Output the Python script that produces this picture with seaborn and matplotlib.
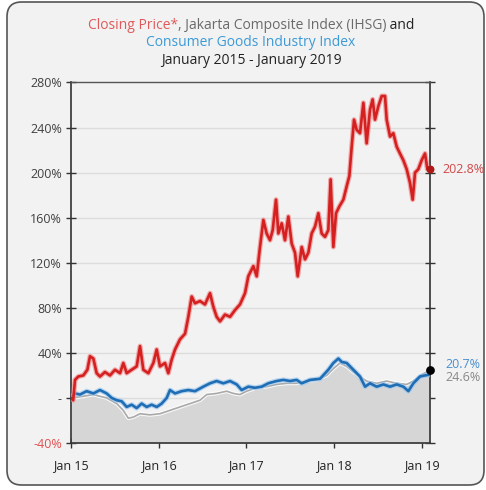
import matplotlib
matplotlib.use("Agg")
import matplotlib.pyplot as plt
import matplotlib.patheffects as pe
from matplotlib.patches import FancyBboxPatch
from matplotlib.offsetbox import TextArea, HPacker, VPacker, AnnotationBbox
import pandas as pd
import seaborn as sns

# Months elapsed since January 2015, and cumulative returns in percent
price_months = [0, 0.3, 0.55, 1.0, 1.69, 2.24, 2.6, 3.06, 3.51, 3.97, 4.65, 5.34, 6.02,
                6.71, 7.16, 7.62, 8.30, 8.99, 9.45, 9.90, 10.59, 11.27, 11.73, 12.18,
                12.87, 13.32, 13.78, 14.24, 14.92, 15.61, 16.06, 16.52, 16.97, 17.66,
                18.34, 19.03, 19.48, 19.94, 20.40, 21.08, 21.77, 22.45, 23.13, 23.82,
                24.27, 24.96, 25.42, 25.87, 26.33, 26.78, 27.24, 27.61, 28.06, 28.38,
                28.84, 29.29, 29.75, 30.21, 30.66, 31.03, 31.58, 32.03, 32.49, 32.94,
                33.40, 33.86, 34.31, 34.77, 35.22, 35.54, 35.91, 36.28, 36.73, 37.28,
                37.74, 38.10, 38.42, 38.74, 39.10, 39.56, 40.02, 40.47, 40.93, 41.29,
                41.61, 42.07, 42.53, 42.98, 43.21, 43.67, 44.12, 44.58, 45.03, 45.49,
                45.95, 46.40, 46.77, 47.09, 47.54, 48.00, 48.46, 48.78, 49.14]
price_values = [0, -2, 16, 19, 20, 25, 37, 35, 22, 19, 23, 20, 25,
                22, 31, 22, 25, 28, 46, 25, 22, 31, 43, 28,
                31, 22, 34, 43, 52, 57, 72, 90, 84, 86,
                83, 93, 81, 72, 68, 74, 72, 78, 83, 93,
                108, 117, 108, 134, 158, 146, 140, 149, 176, 146,
                155, 140, 161, 137, 129, 108, 134, 123, 129, 146,
                152, 164, 146, 143, 149, 194, 134, 164, 170, 176,
                188, 197, 223, 247, 238, 235, 262, 226, 256, 265,
                247, 259, 268, 268, 247, 232, 235, 223, 217, 211,
                203, 191, 176, 200, 203, 211, 217, 203, 202.8]

consumer_months = [0, 0.55, 1.23, 2.14, 3.06, 3.97, 4.88, 5.57, 6.25, 6.94, 7.62, 8.30,
                   8.99, 9.67, 10.36, 11.04, 11.73, 12.41, 13.10, 13.55, 14.24, 15.15,
                   16.06, 16.97, 18.11, 19.03, 19.94, 20.85, 21.77, 22.68, 23.36, 24.27,
                   25.19, 26.10, 27.01, 28.15, 29.07, 29.98, 30.89, 31.58, 32.72, 34.09,
                   35.22, 35.91, 36.60, 37.05, 37.74, 38.65, 39.56, 40.25, 40.93, 41.84,
                   42.75, 43.67, 44.58, 45.49, 46.18, 46.86, 47.77, 48.46, 49.14]
consumer_values = [0, 4, 3, 6, 4, 7, 4, 0, -2, -3, -8, -6,
                   -9, -5, -8, -6, -8, -5, 0, 7, 4, 6,
                   7, 6, 10, 13, 15, 13, 15, 12, 7, 10,
                   9, 10, 13, 15, 16, 15, 16, 13, 16, 17,
                   25, 31, 35, 32, 31, 25, 19, 10, 13, 10,
                   12, 10, 12, 10, 6, 13, 19, 20, 20.7]

ihsg_months = [0, 1.23, 3.06, 4.88, 6.25, 7.16, 7.85, 8.53, 9.45, 10.81, 12.18, 13.55,
               14.92, 16.29, 17.66, 18.57, 19.94, 21.31, 22.22, 23.13, 24.05, 25.42,
               26.78, 28.15, 29.52, 30.89, 32.26, 33.63, 35.00, 35.91, 36.82, 37.74,
               38.65, 39.56, 40.47, 41.84, 43.21, 44.58, 45.95, 46.86, 47.77, 49.14]
ihsg_values = [0, 1, 3, 0, -5, -11, -18, -17, -14, -15, -14, -11,
               -8, -5, -2, 3, 4, 6, 4, 3, 6, 9,
               10, 12, 13, 13, 15, 16, 20, 26, 31, 28,
               23, 19, 15, 13, 15, 13, 12, 15, 20, 24.6]

y_ticks = [-40, 0, 40, 80, 120, 160, 200, 240, 280]
y_tick_labels = ["-40%", "-", "40%", "80%", "120%", "160%", "200%", "240%", "280%"]
x_ticks = [0, 12, 24, 36, 48]
x_tick_labels = ["Jan 15", "Jan 16", "Jan 17", "Jan 18", "Jan 19"]

RED = "#d42020"
BLUE = "#1f6db5"
GREY_LINE = "#a9a9a9"
BG = "#f2f2f2"
TXT = "#404040"

sns.set_theme(style="white")
plt.rcParams["font.family"] = ["Open Sans", "DejaVu Sans"]

fig = plt.figure(figsize=(4.86, 4.90), dpi=100)
fig.patch.set_facecolor("white")
frame = FancyBboxPatch((7 / 486, 5 / 490), 477 / 486, 483 / 490,
                       boxstyle="round,pad=0,rounding_size=0.03",
                       transform=fig.transFigure, facecolor=BG,
                       edgecolor="#555555", linewidth=1.2, zorder=-10)
fig.patches.append(frame)

ax = fig.add_axes([71 / 486, 47 / 490, 359 / 486, 360.5 / 490])
ax.set_facecolor(BG)

price = pd.DataFrame({"month": price_months, "value": price_values})
consumer = pd.DataFrame({"month": consumer_months, "value": consumer_values})
ihsg = pd.DataFrame({"month": ihsg_months, "value": ihsg_values})

for y in y_ticks[1:-1]:
    ax.axhline(y, color="#dddddd", lw=1.0, zorder=0)

ax.fill_between(ihsg["month"], ihsg["value"], -40, color="#d6d6d6", lw=0, zorder=1)
sns.lineplot(data=ihsg, x="month", y="value", ax=ax, color=GREY_LINE, lw=1.2, zorder=2,
             path_effects=[pe.Stroke(linewidth=2.8, foreground="white", alpha=0.85), pe.Normal()])
sns.lineplot(data=consumer, x="month", y="value", ax=ax, color=BLUE, lw=1.9, zorder=3,
             path_effects=[pe.Stroke(linewidth=3.6, foreground="#9cc6ec", alpha=0.7), pe.Normal()])
sns.lineplot(data=price, x="month", y="value", ax=ax, color=RED, lw=1.9, zorder=4,
             path_effects=[pe.Stroke(linewidth=3.6, foreground="#f08a8a", alpha=0.7), pe.Normal()])

ax.scatter([ihsg_months[-1]], [ihsg_values[-1]], s=28, color="black", zorder=6, clip_on=False)
ax.scatter([price_months[-1]], [price_values[-1]], s=22, color="#b01818", zorder=6, clip_on=False)

ax.set_xlim(0, 49.14)
ax.set_ylim(-40, 280)
ax.set_xlabel("")
ax.set_ylabel("")
ax.set_yticks(y_ticks)
ax.set_yticklabels(y_tick_labels)
ax.set_xticks(x_ticks)
ax.set_xticklabels(x_tick_labels)
ax.tick_params(axis="y", direction="inout", length=7, width=1, color="#333333",
               labelsize=9, labelcolor=TXT, pad=3, right=True, left=True)
ax.tick_params(axis="x", direction="inout", length=7, width=1, color="#333333",
               labelsize=9, labelcolor="#222222", pad=8, bottom=True)
ax.get_yticklabels()[0].set_color("#e05050")

for side, sp in ax.spines.items():
    sp.set_visible(True)
    sp.set_color("#333333")
    sp.set_linewidth(1.2)
ax.spines["top"].set_color("#555555")
ax.spines["top"].set_linewidth(1.0)

# end-of-series value labels
ax.annotate("202.8%", xy=(1.0, price_values[-1]), xycoords=("axes fraction", "data"),
            xytext=(9, 0), textcoords="offset points", va="center", ha="left",
            fontsize=9, color="#d04848")
ax.annotate("20.7%", xy=(1.0, 29.5), xycoords=("axes fraction", "data"),
            xytext=(11, 0), textcoords="offset points", va="center", ha="left",
            fontsize=9, color="#4a8fd0")
ax.annotate("24.6%", xy=(1.0, 18.5), xycoords=("axes fraction", "data"),
            xytext=(11, 0), textcoords="offset points", va="center", ha="left",
            fontsize=9, color="#888888")

# three-line title with coloured segments
fs = 10
line1 = HPacker(children=[
    TextArea("Closing Price*", textprops=dict(color="#e05a5a", fontsize=fs)),
    TextArea(", Jakarta Composite Index (IHSG)", textprops=dict(color="#6a6a6a", fontsize=fs)),
    TextArea(" and", textprops=dict(color="#222222", fontsize=fs)),
], align="baseline", pad=0, sep=0)
line2 = TextArea("Consumer Goods Industry Index", textprops=dict(color="#3c9ad6", fontsize=fs))
line3 = TextArea("January 2015 - January 2019", textprops=dict(color="#222222", fontsize=fs))
title = VPacker(children=[line1, line2, line3], align="center", pad=0, sep=2)
ab = AnnotationBbox(title, (251 / 486, 1 - 43 / 490), xycoords="figure fraction",
                    box_alignment=(0.5, 0.5), frameon=False)
fig.add_artist(ab)

fig.savefig("out.png", dpi=100, facecolor=fig.get_facecolor())
